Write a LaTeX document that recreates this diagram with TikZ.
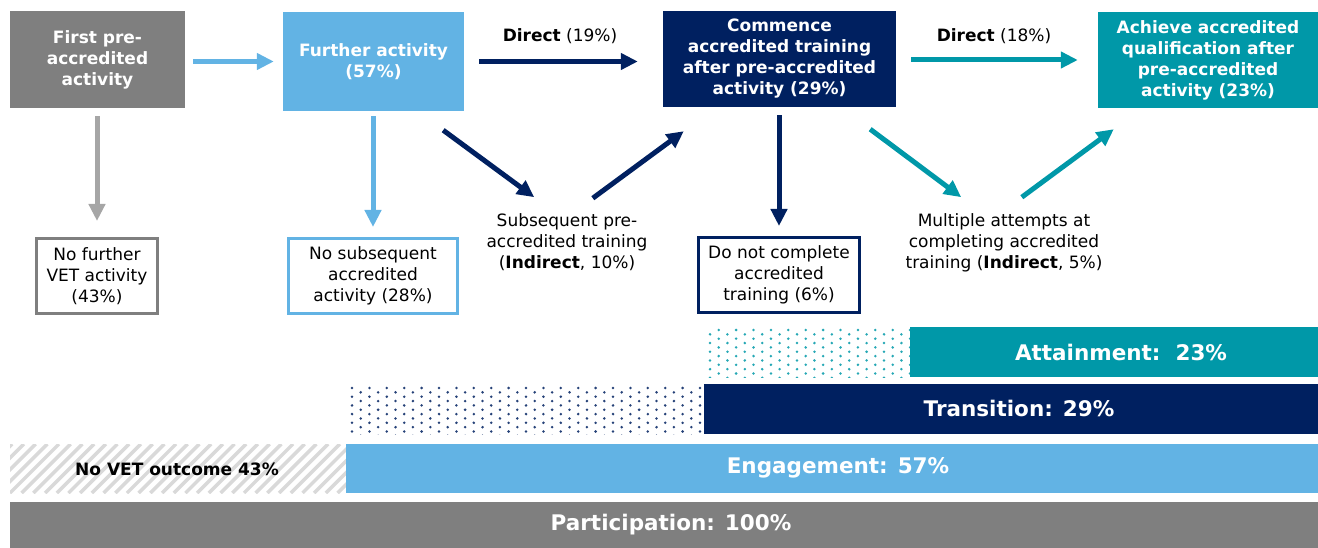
\documentclass[tikz,border=0pt]{standalone}
\usepackage{fontspec}
\setmainfont{DejaVu Sans}
\usetikzlibrary{arrows.meta}

\definecolor{boxgray}{RGB}{127,127,127}
\definecolor{arrowgray}{RGB}{166,166,166}
\definecolor{lightblue}{RGB}{98,179,228}
\definecolor{navy}{RGB}{0,32,96}
\definecolor{tealblue}{RGB}{0,152,168}
\definecolor{hatchgray}{RGB}{217,217,217}

\begin{document}
\begin{tikzpicture}[x=1pt,y=-1pt,
  fullbox/.style={rectangle,inner sep=0pt,align=center,text=white,font=\fontsize{17}{21}\selectfont\bfseries},
  openbox/.style={rectangle,draw,line width=3pt,fill=white,inner sep=0pt,align=center,font=\fontsize{17}{21}\selectfont},
  plaintext/.style={align=center,inner sep=0pt,font=\fontsize{17}{21}\selectfont},
  flow/.style={line width=5pt,-{Triangle[length=17pt,width=16pt]}},
  barlabel/.style={text=white,inner sep=0pt,font=\fontsize{21.5}{26}\selectfont\bfseries}]

\useasboundingbox (0,0) rectangle (1318,548);

% top row
\node[fullbox,fill=boxgray,minimum width=175pt,minimum height=97pt] (first) at (97.5,59.5) {First pre-\\accredited\\activity};
\node[fullbox,fill=lightblue,minimum width=181pt,minimum height=99pt] (further) at (373.5,61.5) {Further activity\\(57\%)};
\node[fullbox,fill=navy,minimum width=233pt,minimum height=96pt] (commence) at (779.5,59) {Commence\\accredited training\\after pre-accredited\\activity (29\%)};
\node[fullbox,fill=tealblue,minimum width=220pt,minimum height=96pt] (achieve) at (1208,60) {Achieve accredited\\qualification after\\pre-accredited\\activity (23\%)};

% outcome boxes
\node[openbox,draw=boxgray,minimum width=121pt,minimum height=75pt] (nofurther) at (97,276) {No further\\VET activity\\(43\%)};
\node[openbox,draw=lightblue,minimum width=169pt,minimum height=75pt] (nosubseq) at (373,276) {No subsequent\\accredited\\activity (28\%)};
\node[openbox,draw=navy,minimum width=161pt,minimum height=75pt] (notcomplete) at (779,275) {Do not complete\\accredited\\training (6\%)};

% labels
\node[plaintext] (subseq) at (567,242) {Subsequent pre-\\accredited training\\(\textbf{Indirect}, 10\%)};
\node[plaintext] (multiple) at (1004,243) {Multiple attempts at\\completing accredited\\training (\textbf{Indirect}, 5\%)};
\node[plaintext] (dir19) at (560,36) {\textbf{Direct} (19\%)};
\node[plaintext] (dir18) at (994,36) {\textbf{Direct} (18\%)};

% arrows
\draw[flow,lightblue,shorten <=8pt,shorten >=9pt] (first.east |- further.west) -- (further.west);
\draw[flow,navy,shorten <=15pt,shorten >=25pt] (further.east) -- (further.east -| commence.west);
\draw[flow,tealblue,shorten <=15pt,shorten >=20pt] (commence.east |- achieve.west) -- (achieve.west);

\draw[flow,arrowgray,shorten <=8pt,shorten >=16pt] (first.south -| nofurther.north) -- (nofurther.north);
\draw[flow,lightblue,shorten <=5pt,shorten >=10pt] (further.south -| nosubseq.north) -- (nosubseq.north);
\draw[flow,navy,shorten <=8pt,shorten >=10pt] (commence.south -| notcomplete.north) -- (notcomplete.north);

\draw[flow,navy] (further.south east) ++(-21,19) -- ++(91,67);
\draw[flow,navy] (commence.south west) ++(-70,91) -- ++(91,-67);
\draw[flow,tealblue] (commence.south east) ++(-26,22) -- ++(91,68);
\draw[flow,tealblue] (achieve.south west) ++(-76,89) -- ++(92,-68);

% attainment bar
\begin{scope}
  \clip (708,327) rectangle (910,377);
  \foreach \i in {0,...,23}
    \foreach \j in {0,...,5}
      \fill[tealblue!85] ({710+8.7*\i},{330+8.7*\j+4.35*mod(\i+1,2)}) circle (1.4pt);
\end{scope}
\fill[tealblue] (910,327) rectangle (1318,377);
\node[barlabel] (attain) at (1121,352) {Attainment:\ \ 23\%};

% transition bar
\begin{scope}
  \clip (349,384) rectangle (704,434);
  \foreach \i in {0,...,41}
    \foreach \j in {0,...,5}
      \fill[navy!85] ({352+8.7*\i},{388+8.7*\j+4.35*mod(\i,2)}) circle (1.4pt);
\end{scope}
\fill[navy] (704,384) rectangle (1318,434);
\node[barlabel] (trans) at (1019,408) {Transition: 29\%};

% engagement bar
\begin{scope}
  \clip (10,444) rectangle (346,493);
  \foreach \k in {-5,...,30}
    \draw[hatchgray,line width=3.5pt] ({10+11.7*\k},493) -- ++(49,-49);
\end{scope}
\node[inner sep=0pt,font=\fontsize{17}{20}\selectfont\bfseries] (novet) at (177,469) {No VET outcome 43\%};
\fill[lightblue] (346,444) rectangle (1318,493);
\node[barlabel] (engage) at (838,468) {Engagement: 57\%};

% participation bar
\fill[boxgray] (10,502) rectangle (1318,548);
\node[barlabel] (partic) at (671,525) {Participation: 100\%};

\end{tikzpicture}
\end{document}
